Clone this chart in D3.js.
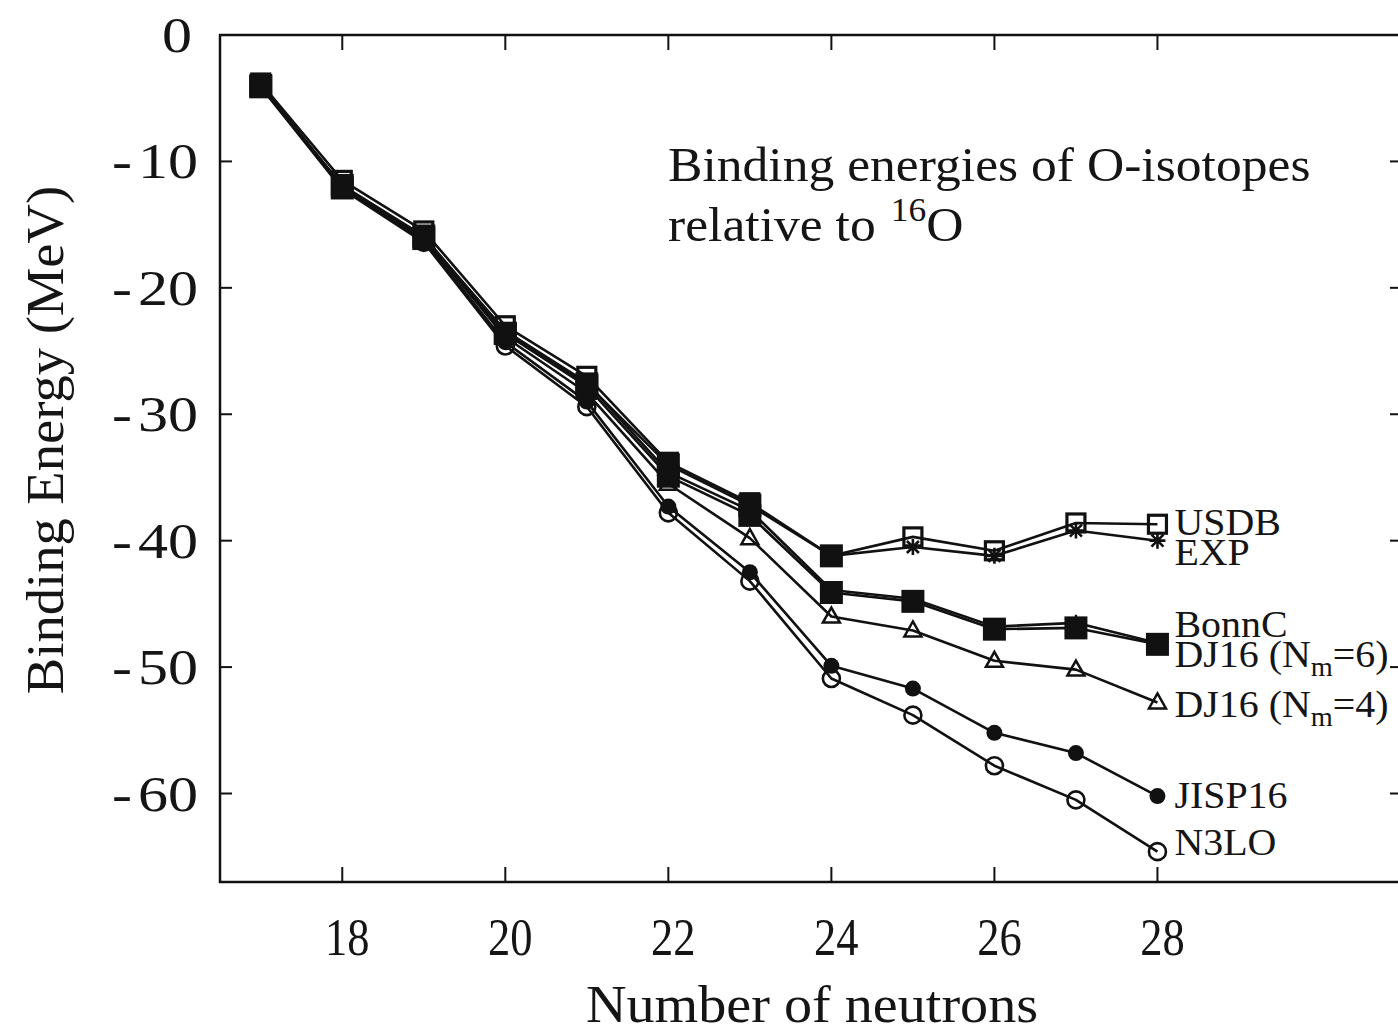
<!DOCTYPE html>
<html>
<head>
<meta charset="utf-8">
<script src="https://cdn.jsdelivr.net/npm/d3@7/dist/d3.min.js"></script>
<style>
  html, body { margin: 0; padding: 0; background: #fff; }
  svg { display: block; }
  text { font-family: "Liberation Serif", "Times New Roman", serif; fill: #151515; }
</style>
</head>
<body>
<svg id="chart" width="1398" height="1036"></svg>
<script>
// ---------------- data ----------------
const neutrons = [17, 18, 19, 20, 21, 22, 23, 24, 25, 26, 27, 28];
const usdb   = [-3.8, -11.5, -15.5, -23.0, -27.0, -33.8, -37.0, -41.2, -39.7, -40.8, -38.6, -38.7];
const exp    = [-4.1, -11.9, -15.9, -23.6, -27.6, -34.0, -37.2, -41.2, -40.5, -41.2, -39.2, -40.0];
const bonnC  = [-3.9, -12.0, -16.0, -23.4, -27.5, -34.6, -37.6, -43.9, -44.6, -46.8, -46.5, -48.1];
const dj16m6 = [-4.0, -12.1, -16.1, -23.6, -27.8, -34.9, -38.0, -44.1, -44.8, -47.0, -46.9, -48.2];
const dj16m4 = [-4.0, -12.0, -16.1, -23.9, -28.3, -35.5, -39.8, -46.0, -47.1, -49.5, -50.2, -52.8];
const jisp16 = [-4.0, -12.1, -16.3, -24.3, -29.0, -37.3, -42.5, -49.9, -51.7, -55.2, -56.8, -60.2];
const n3lo   = [-4.1, -12.2, -16.4, -24.6, -29.4, -37.8, -43.2, -50.9, -53.8, -57.8, -60.5, -64.6];
// EXP points that are drawn as filled squares (measured) vs stars
const expMeasured = [true, true, true, true, true, true, true, true, false, false, false, false];

const xTicks = [18, 20, 22, 24, 26, 28];
const yTicks = [0, -10, -20, -30, -40, -50, -60];

const seriesNames = ["N3LO", "JISP16", "DJ16 (Nm=4)", "DJ16 (Nm=6)", "BonnC", "USDB", "EXP"];
const seriesValues = [n3lo, jisp16, dj16m4, dj16m6, bonnC, usdb, exp];
const seriesMarkers = ["openCircle", "filledCircle", "openTriangle", "filledSquare", "plus", "openSquare", "star"];

// ---------------- layout ----------------
const plot = { left: 220, right: 1402, top: 35, bottom: 882 };
const svg = d3.select("#chart");

const x = d3.scaleLinear().domain([16.5, 31]).range([plot.left, plot.right]);
const y = d3.scaleLinear().domain([-67, 0]).range([plot.bottom, plot.top]);

const ink = "#111";
const hscale = (ax, s) => `translate(${ax},0) scale(${s},1) translate(${-ax},0)`;

// frame
svg.append("rect")
  .attr("x", plot.left).attr("y", plot.top)
  .attr("width", plot.right - plot.left).attr("height", plot.bottom - plot.top)
  .attr("fill", "none").attr("stroke", ink).attr("stroke-width", 2.5);

// ticks (inward, on all four sides)
const tickLenX = 15, tickLenY = 12;
const ticksG = svg.append("g").attr("stroke", ink).attr("stroke-width", 2);
xTicks.forEach(t => {
  ticksG.append("line").attr("x1", x(t)).attr("x2", x(t)).attr("y1", plot.bottom).attr("y2", plot.bottom - tickLenX);
  ticksG.append("line").attr("x1", x(t)).attr("x2", x(t)).attr("y1", plot.top).attr("y2", plot.top + tickLenX);
});
yTicks.filter(t => t !== 0).forEach(t => {
  ticksG.append("line").attr("x1", plot.left).attr("x2", plot.left + tickLenY).attr("y1", y(t)).attr("y2", y(t));
  ticksG.append("line").attr("x1", plot.right).attr("x2", plot.right - tickLenY).attr("y1", y(t)).attr("y2", y(t));
});

// x tick labels
svg.append("g").selectAll("text").data(xTicks).join("text")
  .attr("x", d => x(d) + 5).attr("y", 955)
  .attr("text-anchor", "middle")
  .attr("font-size", 53)
  .attr("transform", d => hscale(x(d) + 5, 0.84))
  .text(d => d3.format("d")(d));

// y tick labels
const yLab = svg.append("g");
yTicks.forEach(t => {
  const txt = yLab.append("text")
    .attr("x", 198).attr("y", y(t) + 17)
    .attr("text-anchor", "end")
    .attr("font-size", 50)
    .attr("transform", hscale(198, 1.2));
  if (t < 0) {
    txt.append("tspan").text("-");
    txt.append("tspan").attr("dx", 5).text(String(Math.abs(t)));
  } else {
    txt.attr("x", 192).attr("transform", hscale(192, 1.2)).text("0");
  }
});

// axis titles
svg.append("text")
  .attr("transform", `translate(63, 440) rotate(-90) scale(1.03,1)`)
  .attr("text-anchor", "middle")
  .attr("font-size", 53)
  .text("Binding Energy (MeV)");

svg.append("text")
  .attr("x", 812).attr("y", 1022)
  .attr("text-anchor", "middle")
  .attr("font-size", 52)
  .attr("transform", hscale(812, 1.08))
  .text("Number of neutrons");

// in-plot title
svg.append("text")
  .attr("x", 668).attr("y", 181)
  .attr("font-size", 48)
  .attr("transform", hscale(668, 1.075))
  .text("Binding energies of O-isotopes");
const t2 = svg.append("text").attr("x", 668).attr("y", 241).attr("font-size", 48)
  .attr("transform", hscale(668, 1.075));
t2.append("tspan").text("relative to ");
t2.append("tspan").attr("font-size", 33).attr("dy", -20).attr("dx", 2).text("16");
t2.append("tspan").attr("dy", 20).text("O");

// ---------------- series ----------------
const line = d3.line().x(d => x(d[0])).y(d => y(d[1]));
const linesG = svg.append("g");
const markG = svg.append("g");

function drawMarker(g, type, cx, cy) {
  switch (type) {
    case "filledSquare":
      g.append("rect").attr("x", cx - 11.5).attr("y", cy - 11.5).attr("width", 23).attr("height", 23).attr("fill", ink);
      break;
    case "openSquare":
      g.append("rect").attr("x", cx - 9).attr("y", cy - 9).attr("width", 18).attr("height", 18)
        .attr("fill", "none").attr("stroke", ink).attr("stroke-width", 3.2);
      break;
    case "filledCircle":
      g.append("circle").attr("cx", cx).attr("cy", cy).attr("r", 8).attr("fill", ink);
      break;
    case "openCircle":
      g.append("circle").attr("cx", cx).attr("cy", cy).attr("r", 8.5)
        .attr("fill", "none").attr("stroke", ink).attr("stroke-width", 2.6);
      break;
    case "openTriangle":
      g.append("path")
        .attr("d", `M${cx},${cy - 9}L${cx + 8.5},${cy + 6}L${cx - 8.5},${cy + 6}Z`)
        .attr("fill", "none").attr("stroke", ink).attr("stroke-width", 2.5);
      break;
    case "plus":
      g.append("path")
        .attr("d", `M${cx - 8},${cy}H${cx + 8}M${cx},${cy - 8}V${cy + 8}`)
        .attr("stroke", ink).attr("stroke-width", 2.4);
      break;
    case "star":
      g.append("path")
        .attr("d", `M${cx - 8},${cy}H${cx + 8}M${cx},${cy - 8}V${cy + 8}M${cx - 6},${cy - 6}L${cx + 6},${cy + 6}M${cx - 6},${cy + 6}L${cx + 6},${cy - 6}`)
        .attr("stroke", ink).attr("stroke-width", 2.6);
      break;
  }
}

seriesValues.forEach((vals, i) => {
  const pts = neutrons.map((n, j) => [n, vals[j]]);
  linesG.append("path").attr("d", line(pts))
    .attr("fill", "none").attr("stroke", ink).attr("stroke-width", 2.6)
    .attr("stroke-linejoin", "round");
});
seriesValues.forEach((vals, i) => {
  const g = markG.append("g").attr("class", "markers-" + i);
  neutrons.forEach((n, j) => {
    let type = seriesMarkers[i];
    if (seriesNames[i] === "EXP" && expMeasured[j]) type = "filledSquare";
    drawMarker(g, type, x(n), y(vals[j]));
  });
});

// ---------------- series labels ----------------
const labelLayout = [
  { parts: [["USDB"]], v: -39.55 },
  { parts: [["EXP"]], v: -41.95 },
  { parts: [["BonnC"]], v: -47.6 },
  { parts: [["DJ16 (N"], ["m", "sub"], ["=6)"]], v: -50.0 },
  { parts: [["DJ16 (N"], ["m", "sub"], ["=4)"]], v: -53.95 },
  { parts: [["JISP16"]], v: -61.15 },
  { parts: [["N3LO"]], v: -64.85 }
];
labelLayout.forEach(l => {
  const lx = x(28) + 17;
  const t = svg.append("text").attr("x", lx).attr("y", y(l.v)).attr("font-size", 38)
    .attr("transform", hscale(lx, 1.05));
  let down = false;
  l.parts.forEach(p => {
    const ts = t.append("tspan").text(p[0]);
    if (p[1] === "sub") { ts.attr("font-size", 27).attr("dy", 9); down = true; }
    else if (down) { ts.attr("dy", -9); down = false; }
  });
});
</script>
</body>
</html>
